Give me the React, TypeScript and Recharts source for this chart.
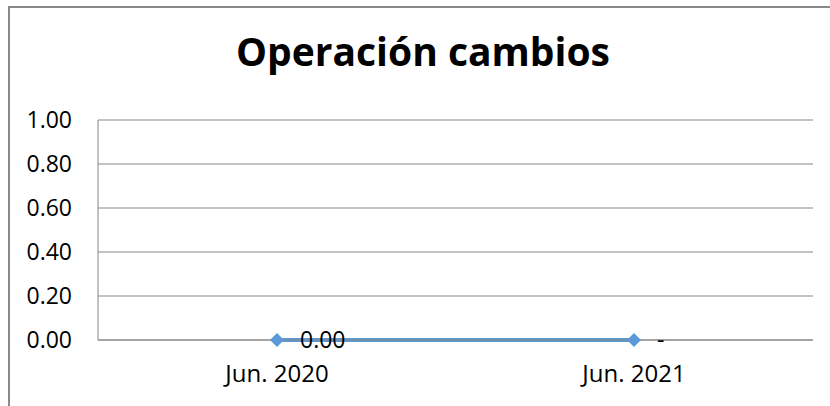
import { CartesianGrid, LabelList, Line, LineChart, XAxis, YAxis } from 'recharts'

const categories = ['Jun. 2020', 'Jun. 2021']
const values = [0, 0]
const valueLabels = ['0.00', '-']
const yTicks = [0, 0.2, 0.4, 0.6, 0.8, 1]

const data = categories.map((name, i) => ({ name, value: values[i], label: valueLabels[i] }))

const FONT = '"Open Sans", sans-serif'
const BLUE = '#5B9BD5'
const GRID = '#868686'

function Diamond(props: { cx?: number; cy?: number }) {
  const { cx, cy } = props
  if (cx == null || cy == null) return null
  const r = 7
  return <path d={`M${cx},${cy - r}L${cx + r},${cy}L${cx},${cy + r}L${cx - r},${cy}Z`} fill={BLUE} />
}

export default function App() {
  return (
    <div style={{ position: 'absolute', left: 0, top: 0, width: 830, height: 406, background: '#fff', overflow: 'hidden' }}>
      <div
        style={{
          position: 'absolute',
          left: 8,
          top: 6,
          width: 900,
          height: 500,
          borderLeft: '2px solid #898989',
          borderTop: '2px solid #898989',
        }}
      />
      <div
        style={{
          position: 'absolute',
          left: 0,
          width: 846,
          top: 28,
          textAlign: 'center',
          fontFamily: FONT,
          fontWeight: 700,
          fontSize: 39,
          lineHeight: '46px',
          color: '#000',
        }}
      >
        Operación cambios
      </div>
      <LineChart
        width={830}
        height={406}
        data={data}
        margin={{ top: 120, right: 17, bottom: 26, left: 10 }}
        style={{ position: 'absolute', left: 0, top: 0 }}
      >
        <CartesianGrid vertical={false} stroke={GRID} strokeWidth={1} />
        <XAxis
          dataKey="name"
          padding={{ left: 179, right: 179 }}
          tickLine={false}
          tickSize={0}
          tickMargin={25}
          height={40}
          axisLine={{ stroke: GRID }}
          tick={{ fontSize: 24, fill: '#000', fontFamily: FONT }}
        />
        <YAxis
          domain={[0, 1]}
          ticks={yTicks}
          tickFormatter={(v: number) => v.toFixed(2)}
          width={88}
          tickLine={false}
          tickSize={0}
          tickMargin={26}
          axisLine={{ stroke: GRID }}
          tick={{ fontSize: 23, fill: '#000', fontFamily: FONT }}
        />
        <Line
          dataKey="value"
          stroke={BLUE}
          strokeWidth={4}
          dot={<Diamond />}
          activeDot={false}
          isAnimationActive={false}
        >
          <LabelList dataKey="label" position="right" offset={23} fill="#000" fontSize={23} fontFamily={FONT} />
        </Line>
      </LineChart>
    </div>
  )
}
